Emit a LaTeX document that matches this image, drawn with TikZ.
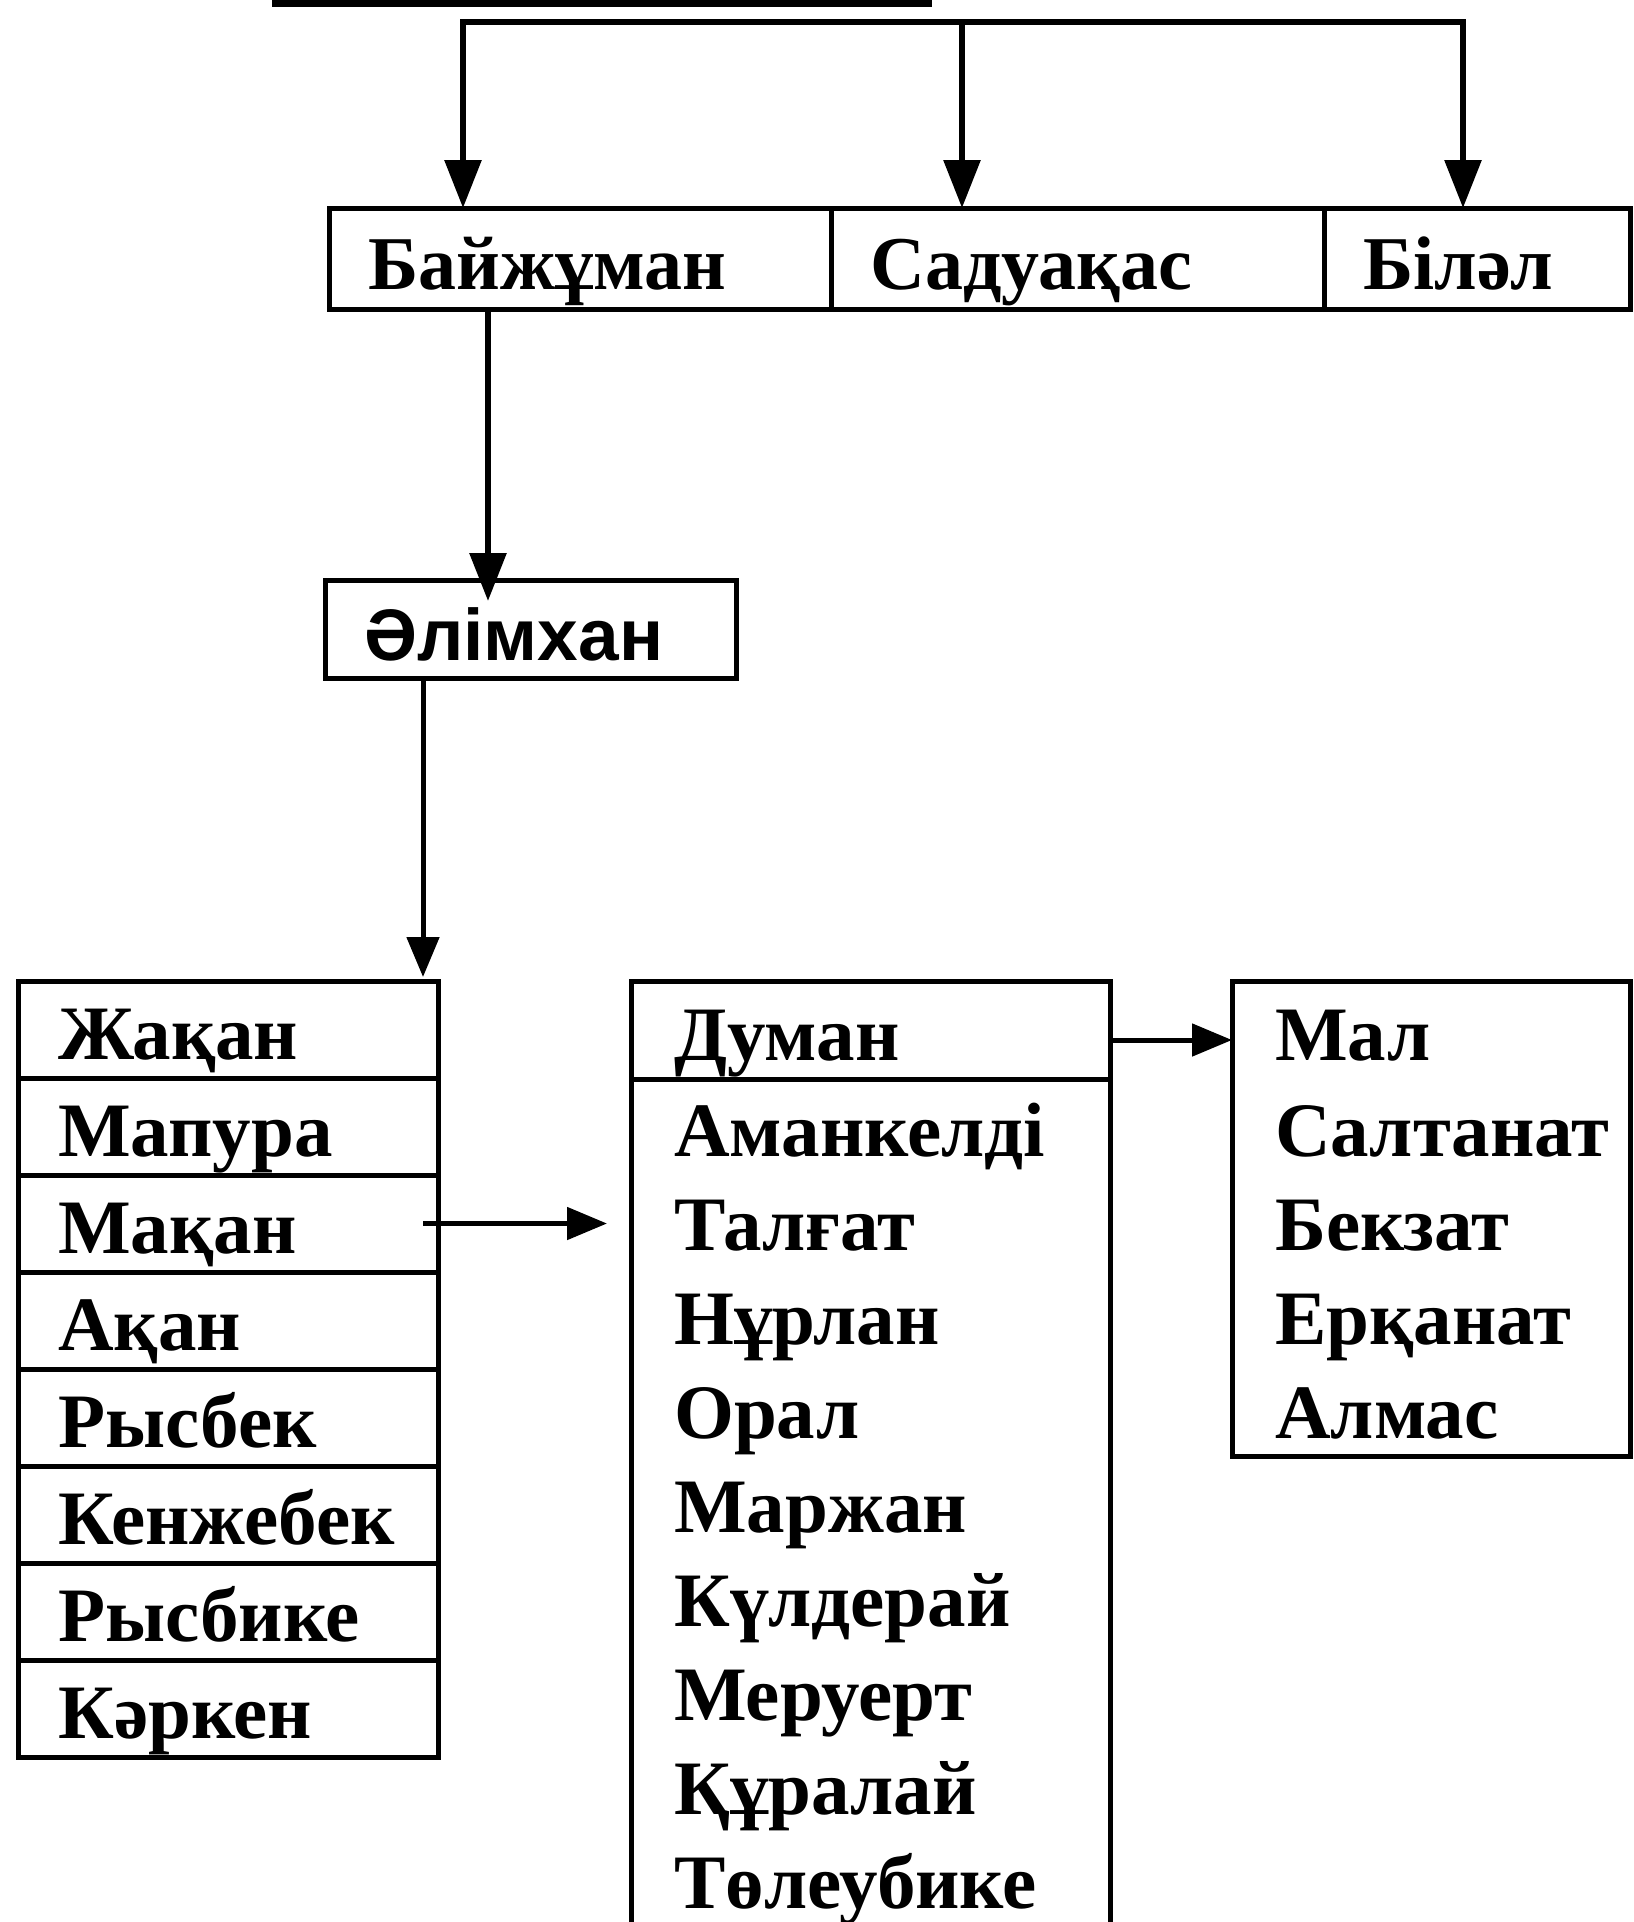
\documentclass[tikz,border=0pt]{standalone}
\usepackage{fontspec}
\setmainfont{Liberation Serif}
\newfontfamily\sansb{Liberation Sans}
\usetikzlibrary{arrows.meta}
\begin{document}
\begin{tikzpicture}[x=1pt,y=-1pt,
 box/.style={draw,line width=5pt,anchor=north west,inner sep=0pt,outer sep=0pt},
 nm/.style={anchor=base west,inner sep=0pt,font=\fontsize{77}{77}\selectfont\bfseries},
 nmtop/.style={anchor=base west,inner sep=0pt,font=\fontsize{76}{76}\selectfont\bfseries},
 nmsans/.style={anchor=base west,inner sep=0pt,font=\sansb\fontsize{73}{73}\selectfont\bfseries},
 arr/.style={line width=6pt,-{Triangle[length=48pt,width=36pt]}},
 arrs/.style={line width=5pt,-{Triangle[length=40pt,width=32pt]}}]
\useasboundingbox (0,0) rectangle (1633,1922);
\clip (0,0) rectangle (1633,1922);

% stub of a box above the picture
\coordinate (s1) at (272,3);
\coordinate (s2) at (932,3);
\draw[line width=8pt] (s1) -- (s2);

% top row
\node[box,minimum width=502pt,minimum height=101pt] (b1) at (329,208) {};
\node[box,minimum width=493pt,minimum height=101pt] (b2) at (831,208) {};
\node[box,minimum width=306pt,minimum height=101pt] (b3) at (1324,208) {};
\node[nmtop] (tb1) at (368,289) {Байжұман};
\node[nmtop] (tb2) at (870,289) {Садуақас};
\node[nmtop] (tb3) at (1363,289) {Білəл};

% connector to top row
\coordinate (c1) at (463,22);
\coordinate (c2) at (962,22);
\coordinate (c3) at (1463,22);
\draw[line width=6pt,line cap=rect] (c1) -- (c3);
\draw[arr] (c1) -- (c1 |- b1.north);
\draw[arr] (c2) -- (c2 |- b2.north);
\draw[arr] (c3) -- (c3 |- b3.north);

% Әлімхан
\node[box,minimum width=411pt,minimum height=98pt] (alim) at (325,580) {};
\node[nmsans] (talim) at (364,660) {Әлімхан};
\coordinate (d1) at (488,0);
\draw[arr] (d1 |- b1.south) -- ([yshift=-21pt]d1 |- alim.north);

% left column
\foreach \n [count=\i] in {Жақан,Мапура,Мақан,Ақан,Рысбек,Кенжебек,Рысбике,Кəркен}{
  \node[box,minimum width=420pt,minimum height=97pt] (r\i) at (18,{981+97*(\i-1)}) {};
  \node[nm] (rt\i) at (58,{1059+97*(\i-1)}) {\n};
}
\coordinate (d2) at (423,0);
\draw[arrs] (d2 |- alim.south) -- ([yshift=4pt]d2 |- r1.north);

% middle column
\node[box,minimum width=479pt,minimum height=98pt] (m1) at (631,981) {};
\node[box,minimum width=479pt,minimum height=880pt] (m2) at (631,1079) {};
\node[nm] (mt0) at (674,1060) {Думан};
\foreach \n [count=\i] in {Аманкелді,Талғат,Нұрлан,Орал,Маржан,Күлдерай,Меруерт,Құралай,Төлеубике}{
  \node[nm] (mt\i) at (674,{1156+94*(\i-1)}) {\n};
}
\draw[arrs] ([xshift=-15pt]r3.east) -- ([xshift=-24pt]m2.west |- r3.east);

% right column
\node[box,minimum width=398pt,minimum height=475pt] (rb) at (1232,981) {};
\node[nm] (qt1) at (1275,1060) {Мал};
\foreach \n [count=\i] in {Салтанат,Бекзат,Ерқанат,Алмас}{
  \node[nm] (qt\i b) at (1275,{1156+94*(\i-1)}) {\n};
}
\draw[arrs] ([yshift=-10pt]m1.east) -- ([yshift=-10pt]m1.east -| rb.west);
\end{tikzpicture}
\end{document}
